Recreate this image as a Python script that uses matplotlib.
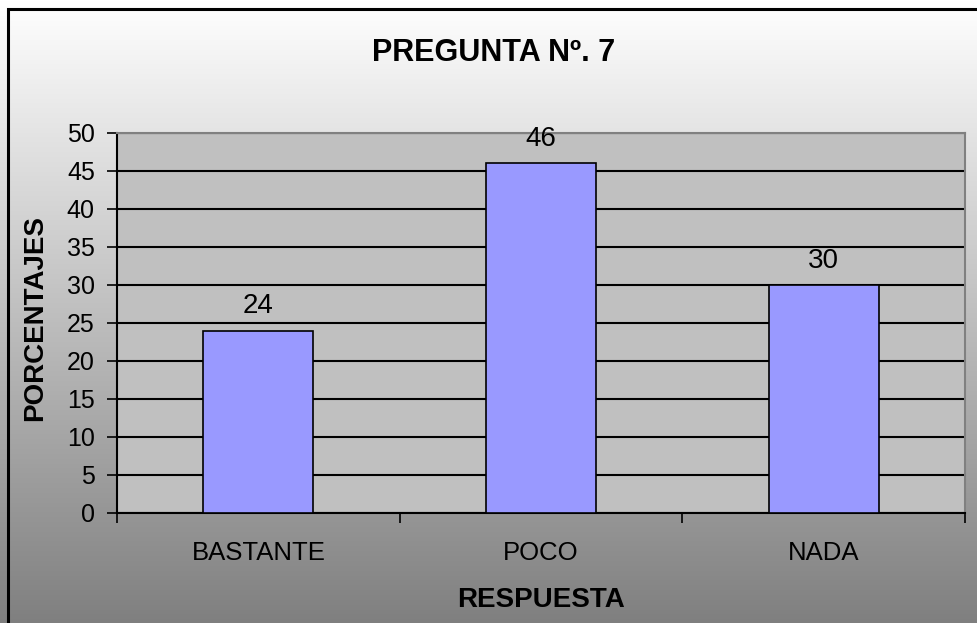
import numpy as np
import matplotlib
matplotlib.use("Agg")
import matplotlib.pyplot as plt
from matplotlib.patches import Rectangle

categories = ["BASTANTE", "POCO", "NADA"]
values = [24, 46, 30]
yticks = [0, 5, 10, 15, 20, 25, 30, 35, 40, 45, 50]
title = "PREGUNTA Nº. 7"
xlabel = "RESPUESTA"
ylabel = "PORCENTAJES"

plt.rcParams['font.family'] = ['Liberation Sans', 'DejaVu Sans']

W, H = 977, 623
fig = plt.figure(figsize=(W / 100, H / 100), dpi=100)

# gradient background
bg = fig.add_axes([0, 0, 1, 1], zorder=0)
grad = np.linspace(1.0, 0.0, 256).reshape(-1, 1)
top_c = np.array([1.0, 1.0, 1.0])
bot_c = np.array([0.5, 0.5, 0.5])
img = (grad[..., None] * top_c + (1 - grad[..., None]) * bot_c)
bg.imshow(img, aspect='auto', extent=[0, 1, 0, 1], origin='upper')
bg.set_xlim(0, 1); bg.set_ylim(0, 1)
bg.axis('off')
# outer border
bg.add_patch(Rectangle((8 / W, -0.05), 1.1, 1 - 9 / H + 0.05, fill=False,
                       edgecolor='black', linewidth=2.2, transform=bg.transAxes, clip_on=False))

left, right = 117 / W, 965 / W
bottom, top = 1 - 513 / H, 1 - 133 / H
ax = fig.add_axes([left, bottom, right - left, top - bottom], zorder=1)
ax.set_facecolor('#C0C0C0')

x = np.arange(len(categories))
ax.bar(x, values, width=0.39, color='#9999FF', edgecolor='black', linewidth=1.2, zorder=3)
for xi, v in zip(x, values):
    ax.annotate(str(v), (xi, v), xytext=(0, 8), textcoords='offset points',
                ha='center', va='bottom', fontsize=20)

ax.set_xlim(-0.5, len(categories) - 0.5)
ax.set_ylim(0, 50)
ax.set_yticks(yticks)
ax.set_yticklabels([str(t) for t in yticks], fontsize=18)
ax.yaxis.grid(True, color='black', linewidth=1.5, zorder=1)
ax.set_axisbelow(True)

ax.set_xticks(np.arange(-0.5, len(categories), 1.0))
ax.set_xticklabels([])
ax.set_xticks(x, minor=True)
ax.set_xticklabels(categories, minor=True, fontsize=18.5)
ax.tick_params(axis='x', which='major', direction='out', length=7, width=1.2, color='black')
ax.tick_params(axis='x', which='minor', length=0, pad=20)
ax.tick_params(axis='y', direction='out', length=7, width=1.2, color='black', pad=9)

for s in ['top', 'right']:
    ax.spines[s].set_color('#808080')
    ax.spines[s].set_linewidth(1.5)
for s in ['left', 'bottom']:
    ax.spines[s].set_color('black')
    ax.spines[s].set_linewidth(1.5)

fig.text(494 / W, 1 - 53 / H, title, ha='center', va='center', fontsize=22, fontweight='bold')
fig.text(541 / W, 1 - 600 / H, xlabel, ha='center', va='center', fontsize=20, fontweight='bold')
fig.text(35 / W, 1 - 318 / H, ylabel, ha='center', va='center', rotation=90, fontsize=20, fontweight='bold')

fig.savefig('out.png', dpi=100)
